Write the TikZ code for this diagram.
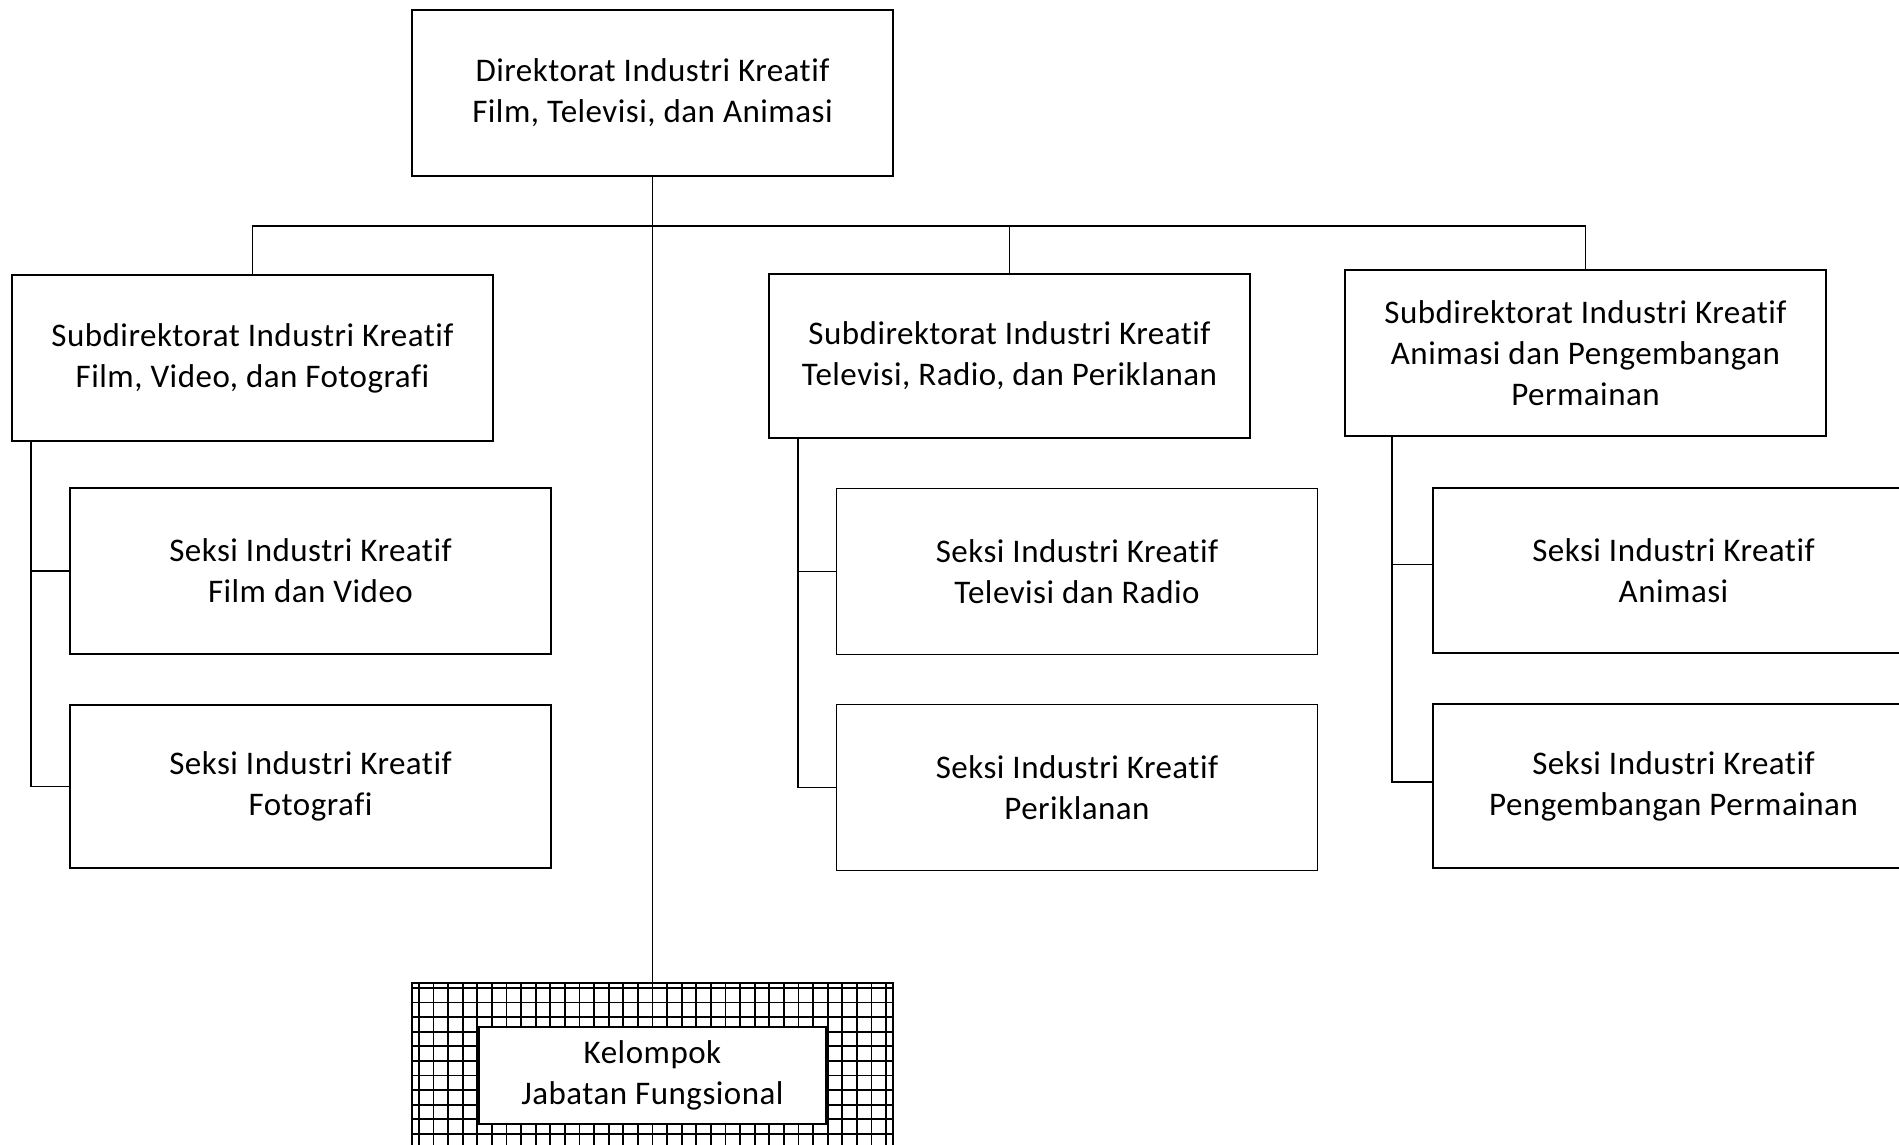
\documentclass[tikz,border=0pt]{standalone}
\usepackage{fontspec}
\setmainfont[Ligatures={NoCommon}, LetterSpace=1.5]{Carlito}

\tikzset{
  unit/.style={draw, line width=1.7pt, minimum width=481pt, minimum height=166pt,
    inner sep=0pt, align=center, font=\fontsize{33}{41}\selectfont},
  link/.style={line width=1.7pt},
  gridbox/.style={draw, line width=2.2pt, minimum width=481pt, minimum height=185pt,
    path picture={\draw[line width=1.9pt, step=14.6pt]
      (path picture bounding box.south west) grid (path picture bounding box.north east);}},
}

\begin{document}
\begin{tikzpicture}[x=1pt, y=-1pt]

  \useasboundingbox (0,0) rectangle (1899,1144);
  \clip (0,0) rectangle (1899,1144);

  % ============================================================
  % Direktorat
  % ============================================================
  \node[unit] (dir) at (652.5,93)
    {Direktorat Industri Kreatif\\Film, Televisi, dan Animasi};

  \coordinate (bus) at (652.5,226);

  % ============================================================
  % Subdirektorat
  % ============================================================
  \node[unit] (sub1) at (252.5,358)
    {Subdirektorat Industri Kreatif\\Film, Video, dan Fotografi};
  \node[unit, minimum height=164pt] (sub2) at (1009.5,356)
    {Subdirektorat Industri Kreatif\\Televisi, Radio, dan Periklanan};
  \node[unit] (sub3) at (1585.5,353)
    {Subdirektorat Industri Kreatif\\Animasi dan Pengembangan\\Permainan};

  % ============================================================
  % Seksi
  % ============================================================
  \node[unit] (s11) at (310.5,571)
    {Seksi Industri Kreatif\\Film dan Video};
  \node[unit, minimum height=163pt] (s12) at (310.5,786.5)
    {Seksi Industri Kreatif\\Fotografi};

  \node[unit] (s21) at (1077,571.5)
    {Seksi Industri Kreatif\\Televisi dan Radio};
  \node[unit] (s22) at (1077,787.5)
    {Seksi Industri Kreatif\\Periklanan};

  \node[unit, minimum height=165pt] (s31) at (1673.5,570.5)
    {Seksi Industri Kreatif\\Animasi};
  \node[unit, minimum height=164pt] (s32) at (1673.5,786)
    {Seksi Industri Kreatif\\Pengembangan Permainan};

  % ============================================================
  % Kelompok Jabatan Fungsional
  % ============================================================
  \node[gridbox] (kel) at (652.5,1075.5) {};
  \node[unit, fill=white, minimum width=347pt, minimum height=97pt] (kelin) at (kel)
    {Kelompok\\Jabatan Fungsional};

  % ============================================================
  % Garis
  % ============================================================
  \draw[link] (dir.south) -- (kel.north);
  \draw[link] (sub1.north) |- (bus) -| (sub3.north);
  \draw[link] (sub2.north) -- (sub2.north |- bus);

  \draw[link] ([xshift=20pt]sub1.south west) |- (s11.west);
  \draw[link] ([xshift=20pt]sub1.south west) |- (s12.west);

  \draw[link] ([xshift=30pt]sub2.south west) |- (s21.west);
  \draw[link] ([xshift=30pt]sub2.south west) |- (s22.west);

  \draw[link] ([xshift=48pt]sub3.south west) |- ([yshift=6pt]s31.west);
  \draw[link] ([xshift=48pt]sub3.south west) |- ([yshift=4pt]s32.west);

\end{tikzpicture}
\end{document}
